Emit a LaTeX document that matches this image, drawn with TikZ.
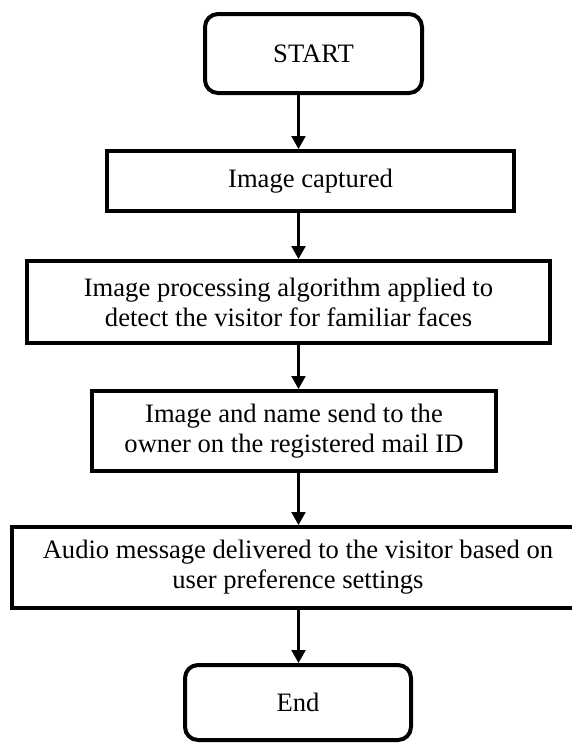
\documentclass[tikz,border=0pt]{standalone}
\usepackage{fontspec}
\setmainfont{Liberation Serif}
\usepackage{tikz}
\usetikzlibrary{shapes,arrows.meta,positioning}
\tikzstyle{block} = [rectangle, draw, line width=4pt, align=center,
    font=\fontsize{26.6}{30}\selectfont]
\tikzstyle{terminal} = [block, rounded corners=13pt]
\tikzstyle{line} = [draw, line width=2.2pt, -{Triangle[width=14pt,length=13pt]}]

\begin{document}
\begin{tikzpicture}[node distance = 128pt, auto]
\useasboundingbox (0,0) rectangle (571pt,-744pt);
\coordinate (axis) at (298.5pt,0);

\node [terminal, minimum width=217pt, minimum height=79pt] (start) at (313.5pt,-53.5pt) {START};
\node [block, below of=start, node distance=127.5pt, xshift=-3pt, minimum width=407pt, minimum height=60pt] (captured) {Image captured};
\node [block, below of=captured, node distance=121pt, xshift=-22pt, minimum width=523pt, minimum height=82pt] (detect) {Image processing algorithm applied to\\detect the visitor for familiar faces};
\node [block, below of=detect, node distance=129pt, xshift=5.5pt, minimum width=404pt, minimum height=80pt] (send) {Image and name send to the\\owner on the registered mail ID};
\node [block, below of=send, node distance=136.5pt, xshift=4pt, minimum width=572pt, minimum height=81pt] (audio) {Audio message delivered to the visitor based on\\user preference settings};
\node [terminal, below of=audio, node distance=135pt, minimum width=226pt, minimum height=75pt] (end) {End};

\path [line] (start.south -| axis) -- (captured.north -| axis);
\path [line] (captured.south -| axis) -- (detect.north -| axis);
\path [line] (detect.south -| axis) -- (send.north -| axis);
\path [line] (send.south -| axis) -- (audio.north -| axis);
\path [line] (audio.south -| axis) -- (end.north -| axis);
\end{tikzpicture}
\end{document}
